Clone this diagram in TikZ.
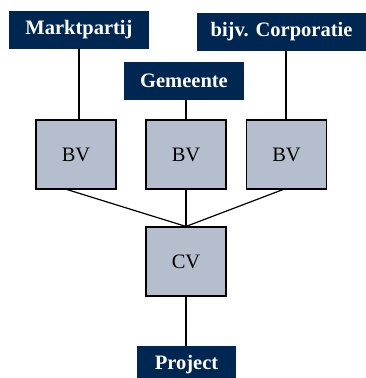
\documentclass[tikz,border=0pt]{standalone}
\usepackage{fontspec}
\setmainfont{Liberation Serif}
\definecolor{navy}{RGB}{0,38,82}
\definecolor{boxgray}{RGB}{180,190,204}
\begin{document}
\begin{tikzpicture}[x=1pt,y=1pt,
  party/.style={fill=navy,text=white,font=\fontsize{20.5}{24}\selectfont\bfseries,inner sep=0pt,minimum height=38pt},
  entity/.style={draw=black,line width=1.1pt,fill=boxgray,font=\fontsize{20.5}{24}\selectfont,inner sep=0pt,minimum width=80pt,minimum height=69pt},
  link/.style={draw=black,line width=1.2pt}]
\useasboundingbox (0,0) rectangle (366,378);
\node[party,minimum width=140pt] (markt) at (79,348) {Marktpartij};
\node[party,minimum width=169pt] (corp) at (281.5,346) {bijv. Corporatie};
\node[party,minimum width=120pt] (gem) at (184,297) {Gemeente};
\node[entity] (bv1) at (76,223.5) {BV};
\node[entity] (bv2) at (186,223.5) {BV};
\node[entity] (bv3) at (286.5,223.5) {BV};
\node[entity] (cv) at (186,116.5) {CV};
\node[party,minimum width=99pt] (proj) at (186.5,13) {Project};
\draw[link] (markt.south) -- (markt.south |- bv1.north);
\draw[link] (gem.south -| bv2.north) -- (bv2.north);
\draw[link] (corp.south -| 286,0) -- (bv3.north -| 286,0);
\draw[link] ([xshift=-9pt]bv1.south) -- (cv.north);
\draw[link] (bv2.south) -- (cv.north);
\draw[link] ([xshift=-3.5pt]bv3.south) -- (cv.north);
\draw[link] (cv.south) -- (cv.south |- proj.north);
\end{tikzpicture}
\end{document}
